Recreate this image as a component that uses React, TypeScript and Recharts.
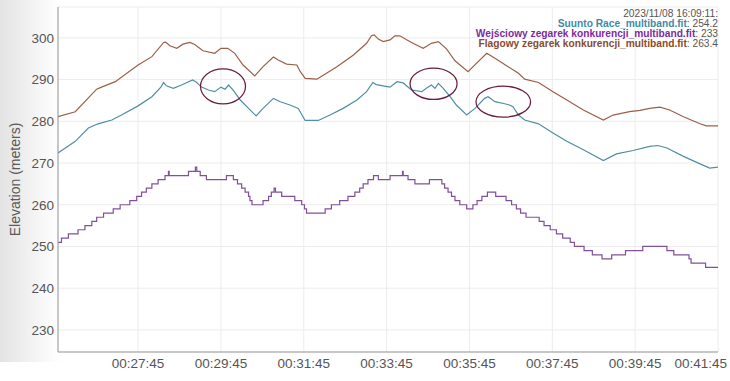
import React from 'react';
import { LineChart, Line, XAxis, YAxis, CartesianGrid, ReferenceDot } from 'recharts';

// ---- data (time in seconds of the hour, elevation in metres) ----
const xTicks = [1665, 1785, 1905, 2025, 2145, 2265, 2385, 2505];
const yTicks = [230, 240, 250, 260, 270, 280, 290, 300];

const suuntoTimes = [1549, 1574, 1593, 1607, 1627, 1641, 1665, 1685, 1698, 1702, 1706, 1716, 1728, 1744, 1749, 1757, 1767, 1776, 1785, 1791, 1796, 1803, 1813, 1825, 1836, 1846, 1861, 1871, 1885, 1897, 1907, 1926, 1943, 1962, 1982, 1996, 2005, 2010, 2020, 2030, 2040, 2049, 2061, 2076, 2083, 2090, 2095, 2100, 2107, 2117, 2126, 2141, 2153, 2167, 2172, 2182, 2196, 2203, 2208, 2216, 2225, 2245, 2266, 2286, 2310, 2339, 2358, 2382, 2406, 2418, 2431, 2455, 2479, 2493, 2505];
const suuntoElev = [272.4, 275.2, 278.4, 279.4, 280.3, 281.5, 283.7, 285.9, 288.2, 289.3, 288.5, 287.9, 288.7, 289.9, 289.4, 288.2, 287.5, 287.1, 288.2, 287.7, 288.7, 287.4, 285.1, 283.1, 281.3, 283.1, 285.5, 284.7, 283.9, 283.1, 280.2, 280.2, 281.5, 283.1, 285.1, 287.1, 289.3, 288.8, 288.5, 288.2, 289.5, 289.2, 287.5, 287.1, 288.0, 288.7, 287.9, 289.1, 287.9, 285.9, 283.9, 281.5, 283.1, 285.5, 285.9, 284.7, 284.2, 283.9, 283.5, 281.5, 280.3, 279.4, 277.2, 275.2, 273.2, 270.6, 272.2, 273.0, 274.0, 274.2, 273.6, 271.6, 269.8, 268.8, 269.0];

const flagTimes = [1549, 1574, 1605, 1612, 1632, 1665, 1685, 1702, 1705, 1711, 1721, 1730, 1740, 1747, 1759, 1776, 1785, 1795, 1805, 1817, 1834, 1846, 1861, 1868, 1880, 1895, 1900, 1907, 1924, 1928, 1953, 1977, 1996, 2003, 2007, 2013, 2020, 2030, 2037, 2044, 2061, 2078, 2090, 2100, 2112, 2124, 2143, 2155, 2170, 2182, 2201, 2216, 2225, 2245, 2266, 2286, 2310, 2339, 2353, 2377, 2392, 2406, 2421, 2435, 2455, 2479, 2488, 2505];
const flagElev = [281.1, 282.3, 287.7, 288.2, 289.5, 293.5, 295.5, 298.9, 299.0, 298.1, 297.5, 298.5, 298.9, 298.4, 296.9, 296.3, 297.5, 297.5, 296.3, 293.5, 290.9, 293.1, 295.4, 294.7, 293.7, 293.5, 291.9, 290.3, 290.1, 290.5, 293.1, 295.9, 298.7, 300.5, 300.7, 299.7, 299.1, 299.5, 300.5, 300.5, 298.9, 297.5, 298.7, 299.1, 297.3, 294.5, 291.9, 293.9, 296.3, 295.1, 293.1, 291.5, 290.1, 289.3, 287.1, 285.1, 282.7, 280.3, 281.5, 282.3, 282.6, 283.1, 283.4, 282.7, 281.1, 279.4, 278.9, 278.9];

const entryTimes = [1549, 1554, 1564, 1578, 1588, 1598, 1605, 1615, 1629, 1639, 1653, 1663, 1670, 1677, 1685, 1694, 1704, 1709, 1710, 1738, 1748, 1750, 1755, 1764, 1793, 1803, 1809, 1815, 1820, 1825, 1827, 1830, 1846, 1854, 1858, 1862, 1864, 1873, 1892, 1902, 1906, 1909, 1936, 1945, 1957, 1969, 1979, 1986, 1991, 1998, 2006, 2013, 2030, 2048, 2049, 2056, 2066, 2087, 2105, 2109, 2114, 2119, 2124, 2131, 2141, 2150, 2156, 2163, 2171, 2183, 2198, 2206, 2213, 2219, 2227, 2246, 2253, 2262, 2271, 2280, 2291, 2297, 2311, 2323, 2337, 2351, 2371, 2396, 2431, 2441, 2463, 2466, 2487, 2505];
const entryElev = [251, 252, 253, 254, 255, 256, 257, 258, 259, 260, 261, 262, 263, 264, 265, 266, 267, 268, 267, 268, 269, 268, 267, 266, 267, 266, 265, 264, 263, 262, 261, 260, 261, 262, 263, 264, 263, 262, 261, 260, 259, 258, 259, 260, 261, 262, 263, 264, 265, 266, 267, 266, 267, 268, 267, 266, 265, 266, 265, 264, 263, 262, 261, 260, 259, 260, 261, 262, 263, 262, 261, 260, 259, 258, 257, 256, 255, 254, 253, 252, 251, 250, 249, 248, 247, 248, 249, 250, 249, 248, 247, 246, 245, 245];

const seriesNames = ['Suunto Race_multiband.fit', 'Wejściowy zegarek konkurencji_multiband.fit', 'Flagowy zegarek konkurencji_multiband.fit'];
const legendValues = ['254.2', '233', '263.4'];
const legendTitle = '2023/11/08 16:09:11:';

// hand-drawn annotation ellipses, centred in data units
const noteTimes = [1788, 2093, 2194];
const noteElev = [288.4, 289.0, 284.7];
const noteRx = [22.5, 23.5, 27.3];
const noteRy = [17.5, 15.7, 15.5];

const lineColors = ['#4f8ea4', '#80509c', '#9c5f47'];
const legendColors = ['#3f8aa8', '#7a2ca0', '#8a4a2e'];

const toRows = (ts: number[], vs: number[]) => ts.map((t, i) => ({ t, v: vs[i] }));
const suuntoData = toRows(suuntoTimes, suuntoElev);
const entryData = toRows(entryTimes, entryElev);
const flagData = toRows(flagTimes, flagElev);

const pad = (n: number) => (n < 10 ? '0' + n : '' + n);
const fmtTime = (s: number) => `00:${pad(Math.floor(s / 60))}:${pad(s % 60)}`;

const FONT = '"Liberation Sans", Arial, sans-serif';

const XTick = (props: any) => {
  const { x, y, payload } = props;
  const last = payload.value === xTicks[xTicks.length - 1];
  return (
    <text x={last ? x + 9 : x} y={y} dy="0.71em" textAnchor={last ? 'end' : 'middle'} fill="#555" fontSize={13.5} fontFamily={FONT}>
      {fmtTime(payload.value)}
    </text>
  );
};

const YTitle = (props: any) => {
  const vb = props.viewBox;
  const cx = vb.x + 15;
  const cy = vb.y + vb.height / 2;
  return (
    <text x={cx} y={cy} transform={`rotate(-90 ${cx} ${cy})`} textAnchor="middle" dominantBaseline="central" fill="#5a5a5a" fontSize={14} fontFamily={FONT}>
      Elevation (meters)
    </text>
  );
};

export default function App() {
  return (
    <div style={{ position: 'absolute', left: 0, top: 0, width: 730, height: 381, background: '#fff', fontFamily: FONT }}>
      <div style={{ position: 'absolute', left: 0, top: 0, width: 62, height: 362, background: 'linear-gradient(to right, #e3e3e3 0px, #efefef 25px, #fbfbfb 50px, #ffffff 62px)' }} />
      <div style={{ position: 'absolute', left: 0, top: 0 }}>
        <LineChart width={730} height={381} margin={{ top: 7, right: 12, bottom: 0, left: 0 }}>
          <CartesianGrid stroke="#ececec" strokeWidth={1} />
          <XAxis
            type="number"
            dataKey="t"
            domain={[1549, 2505]}
            ticks={xTicks}
            allowDataOverflow
            height={29}
            stroke="#999"
            tickLine={false}
            tickSize={0}
            tickMargin={6}
            tick={<XTick />}
            interval={0}
          />
          <YAxis
            type="number"
            domain={[224.7, 307.4]}
            ticks={yTicks}
            allowDataOverflow
            width={58}
            stroke="#999"
            tickLine={false}
            tickSize={0}
            tickMargin={4}
            tick={{ fill: '#555', fontSize: 13.5, fontFamily: FONT }}
            interval={0}
            label={<YTitle />}
          />
          <Line data={suuntoData} dataKey="v" type="linear" stroke={lineColors[0]} strokeWidth={1.2} dot={false} isAnimationActive={false} />
          <Line data={entryData} dataKey="v" type="stepAfter" stroke={lineColors[1]} strokeWidth={1.2} dot={false} isAnimationActive={false} />
          <Line data={flagData} dataKey="v" type="linear" stroke={lineColors[2]} strokeWidth={1.2} dot={false} isAnimationActive={false} />
          {noteTimes.map((t, i) => (
            <ReferenceDot
              key={i}
              x={t}
              y={noteElev[i]}
              r={1}
              shape={(p: any) => (
                <ellipse cx={p.cx} cy={p.cy} rx={noteRx[i]} ry={noteRy[i]} fill="none" stroke="#681c3e" strokeWidth={1.25} />
              )}
            />
          ))}
        </LineChart>
      </div>
      <div style={{ position: 'absolute', right: 12, top: 9, textAlign: 'right', fontSize: 10.2, lineHeight: '10px', color: '#555', whiteSpace: 'nowrap' }}>
        <div>{legendTitle}</div>
        {seriesNames.map((n, i) => (
          <div key={i}>
            <span style={{ fontWeight: 'bold', color: legendColors[i] }}>{n}</span>: {legendValues[i]}
          </div>
        ))}
      </div>
    </div>
  );
}
